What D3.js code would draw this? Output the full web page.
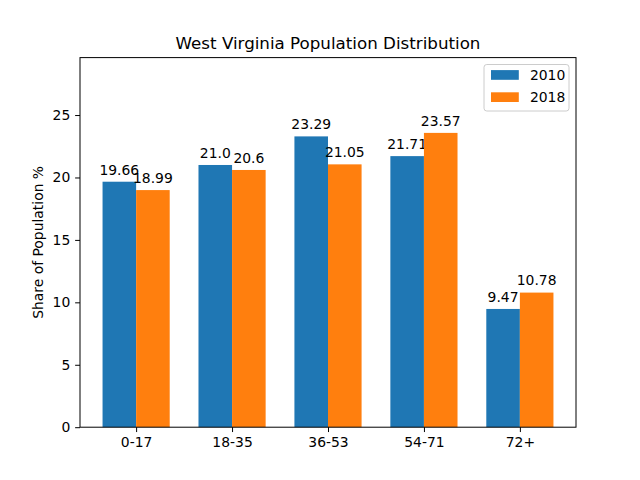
<!DOCTYPE html>
<html><head><meta charset="utf-8">
<script src="https://cdn.jsdelivr.net/npm/d3@7"></script>
<style>body{margin:0;background:#fff}svg{display:block;font-family:"DejaVu Sans",sans-serif}</style>
</head><body>
<script>
const categories = ["0-17","18-35","36-53","54-71","72+"];
const seriesNames = ["2010","2018"];
const values2010 = [19.66, 21.0, 23.29, 21.71, 9.47];
const values2018 = [18.99, 20.6, 21.05, 23.57, 10.78];
const labels2010 = ["19.66","21.0","23.29","21.71","9.47"];
const labels2018 = ["18.99","20.6","21.05","23.57","10.78"];
const yTicks = [0,5,10,15,20,25];
const colors = ["#1f77b4","#ff7f0e"];

const W=640,H=480, L=80, R=576, T=57.6, B=427.2;
const svg=d3.select("body").append("svg").attr("width",W).attr("height",H);
const bw=0.35;
const x=d3.scaleLinear().domain([-0.585,4.585]).range([L,R]);
const y=d3.scaleLinear().domain([0,29.6]).range([B,T]);

const series=[values2010,values2018], labs=[labels2010,labels2018];
series.forEach((vals,si)=>{
  const off = si===0 ? -bw : 0;
  svg.append("g").selectAll("rect").data(vals).join("rect")
    .attr("x",(d,i)=>x(i+off)).attr("width",x(bw)-x(0))
    .attr("y",d=>y(d)).attr("height",d=>y(0)-y(d)).attr("fill",colors[si]);
  svg.append("g").selectAll("text").data(vals).join("text")
    .attr("x",(d,i)=>x(i+off+bw/2)).attr("y",d=>y(d)-4.2-3)
    .attr("text-anchor","middle").attr("font-size","13.9px").attr("fill","#000")
    .text((d,i)=>labs[si][i]);
});

// axes frame
svg.append("rect").attr("x",L).attr("y",T).attr("width",R-L).attr("height",B-T)
  .attr("fill","none").attr("stroke","#000").attr("stroke-width",1);

const xa=svg.append("g").attr("transform",`translate(0,${B})`)
  .call(d3.axisBottom(x).tickValues(d3.range(categories.length)).tickFormat(i=>categories[i]).tickSize(4.86).tickPadding(4.86));
const ya=svg.append("g").attr("transform",`translate(${L},0)`)
  .call(d3.axisLeft(y).tickValues(yTicks).tickSize(4.86).tickPadding(4.86));
[xa,ya].forEach(a=>{a.select(".domain").remove();a.selectAll("text").attr("font-size","13.9px").attr("fill","#000").attr("font-family","DejaVu Sans");a.selectAll("line").attr("stroke","#000");});

svg.append("text").attr("x",(L+R)/2).attr("y",T-8.5).attr("text-anchor","middle")
  .attr("font-size","16.7px").text("West Virginia Population Distribution");
svg.append("text").attr("transform",`translate(43,${(T+B)/2}) rotate(-90)`).attr("text-anchor","middle")
  .attr("font-size","13.9px").text("Share of Population %");

// legend
const lg=svg.append("g");
lg.append("rect").attr("x",484).attr("y",64.5).attr("width",85).attr("height",46.5).attr("rx",2.8)
  .attr("fill","#fff").attr("fill-opacity",0.8).attr("stroke","#cccccc");
seriesNames.forEach((n,i)=>{
  const cy=75+i*22.2;
  lg.append("rect").attr("x",491).attr("y",cy-4.9).attr("width",27.8).attr("height",9.7).attr("fill",colors[i]);
  lg.append("text").attr("x",529.9).attr("y",cy+5).attr("font-size","13.9px").text(n);
});
</script>
</body></html>
